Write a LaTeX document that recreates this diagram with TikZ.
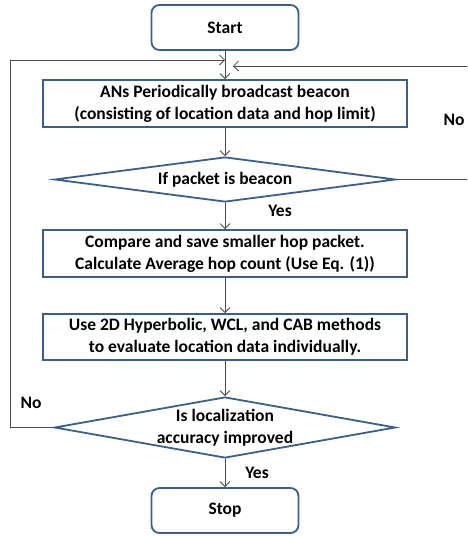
\documentclass[tikz,border=0pt]{standalone}
\usepackage{fontspec}
\setmainfont{Carlito}
\usepackage{tikz}
\usetikzlibrary{positioning}
\usetikzlibrary{shapes.geometric}
\usetikzlibrary{arrows.meta}
\definecolor{boxblue}{RGB}{58,95,140}
\definecolor{linegray}{RGB}{75,75,75}

\begin{document}
\begin{tikzpicture}[x=1pt,y=-1pt]

\tikzstyle{box}=[draw=boxblue,line width=1.8pt,fill=white,inner sep=0pt,align=center,font=\fontsize{17.5}{22}\selectfont\bfseries,minimum width=364pt,minimum height=47pt]
\tikzstyle{terminal}=[box,rounded corners=8pt,minimum width=147pt,minimum height=45pt]
\tikzstyle{decision}=[box,diamond,aspect=6,minimum width=341pt,minimum height=45pt]
\tikzstyle{arr}=[-{Straight Barb[length=5pt,width=10pt]},draw=linegray,line width=0.8pt]
\tikzstyle{lbl}=[font=\fontsize{17.5}{22}\selectfont\bfseries]

\useasboundingbox (0,0) rectangle (467,536);
\clip (0,0) rectangle (467,536);

\node at (225, 27.5)   [terminal] (Start) {Start};
\node at (225, 103.5)  [box] (ANs) {ANs Periodically broadcast beacon\\(consisting of location data and hop limit)};
\node at (225, 179.5)  [decision] (IfBeacon) {If packet is beacon};
\node at (225, 253.5)  [box] (Cmp) {Compare and save smaller hop packet.\\Calculate Average hop count (Use Eq. (1))};
\node at (225, 337)    [box,minimum height=46pt] (Use2D) {Use 2D Hyperbolic, WCL, and CAB methods\\to evaluate location data individually.};
\node at (225, 427.5)  [decision,inner ysep=-10pt,minimum height=61pt] (IsImpr) {Is localization\\accuracy improved};
\node at (225, 510.5)  [terminal] (Stop) {Stop};

\draw[arr] (Start) to (ANs);
\draw[arr] (ANs) to (IfBeacon);
\draw[arr] (IfBeacon) to (Cmp);
\draw[arr] (Cmp) to (Use2D);
\draw[arr] (Use2D) to (IsImpr);
\draw[arr] (IsImpr) to (Stop);

\node at (280, 211)   [lbl] (YesA) {Yes};
\node at (257, 473)   [lbl] (YesB) {Yes};
\node at (454, 120)   [lbl] (NoA) {No};
\node at (31, 403)    [lbl] (NoB) {No};

% back to the beacon step
\coordinate (LoopL) at (10, 60);
\coordinate (LoopR) at (475, 66);
\coordinate (BackR) at (233, 66);
\draw[arr] (IsImpr.west) -| (LoopL) -- (LoopL -| Start.south);
\draw[arr] (IfBeacon.east) -| (LoopR) -- (BackR);

\end{tikzpicture}
\end{document}
